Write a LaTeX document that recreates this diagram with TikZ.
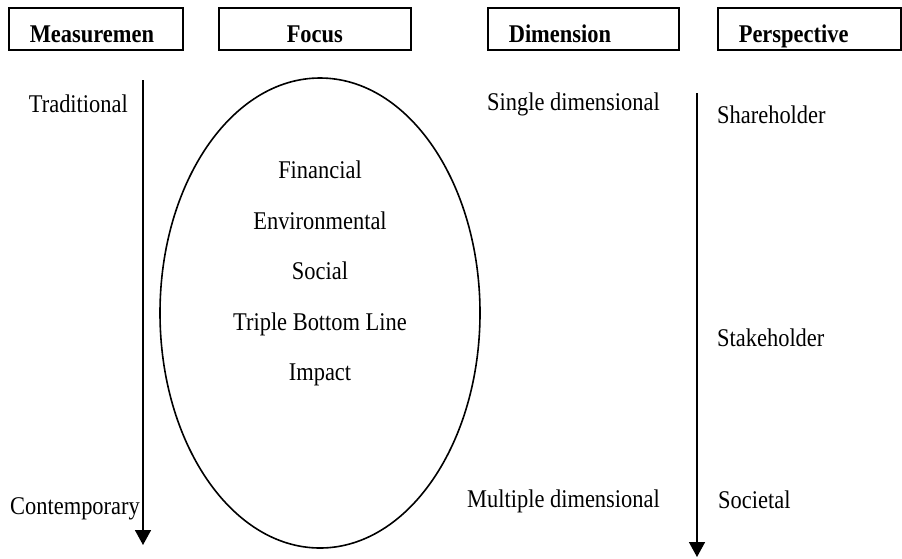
\documentclass[tikz,border=0pt]{standalone}
\usepackage{fontspec}
\setmainfont{Liberation Serif}[FakeStretch=0.88]
\usetikzlibrary{arrows.meta}

\tikzset{
  headbox/.style={draw, line width=1.6pt, minimum height=42pt, text height=28pt, text depth=2pt,
    inner xsep=21pt, anchor=west, align=left, font=\fontsize{25.5}{30}\selectfont\bfseries},
  itemtxt/.style={inner sep=0pt, font=\fontsize{25.5}{30}\selectfont},
  flow/.style={line width=1.6pt, -{Triangle[width=16pt,length=15pt]}}
}

\begin{document}
\begin{tikzpicture}[x=1pt, y=-1pt]
                \useasboundingbox (0, 0) rectangle (902, 558);
                % header boxes
                \node[headbox, text width=132pt] (meas) at (8, 29) {Measuremen};
                \node[headbox, text width=150pt, align=center] (focus) at (218, 29) {Focus};
                \node[headbox, text width=149pt] (dim) at (487, 29) {Dimension};
                \node[headbox, text width=141pt] (persp) at (717, 29) {Perspective};
                % arrows
                \coordinate (mtop) at (143, 80);
                \coordinate (mbot) at (143, 545);
                \coordinate (ptop) at (697, 93);
                \coordinate (pbot) at (697, 557);
                \draw[flow] (mtop) -- (mbot);
                \draw[flow] (ptop) -- (pbot);
                \node[itemtxt, anchor=base east] (trad) at (128, 112) {Traditional};
                \node[itemtxt, anchor=base west] (cont) at (10, 514) {Contemporary};
                % focus oval
                \draw[line width=1.6pt] (320, 313) ellipse [x radius=160pt, y radius=235pt];
                \node[itemtxt, anchor=base] (fin) at (320, 178) {Financial};
                \node[itemtxt, anchor=base] (env) at (320, 229) {Environmental};
                \node[itemtxt, anchor=base] (soc) at (320, 279) {Social};
                \node[itemtxt, anchor=base] (tbl) at (320, 330) {Triple Bottom Line};
                \node[itemtxt, anchor=base] (imp) at (320, 380) {Impact};
                % dimension and perspective
                \node[itemtxt, anchor=base east] (single) at (660, 110) {Single dimensional};
                \node[itemtxt, anchor=base east] (multi) at (660, 507) {Multiple dimensional};
                \node[itemtxt, anchor=base west] (share) at (717, 123) {Shareholder};
                \node[itemtxt, anchor=base west] (stake) at (717, 346) {Stakeholder};
                \node[itemtxt, anchor=base west] (societal) at (718, 508) {Societal};
            \end{tikzpicture}
\end{document}
